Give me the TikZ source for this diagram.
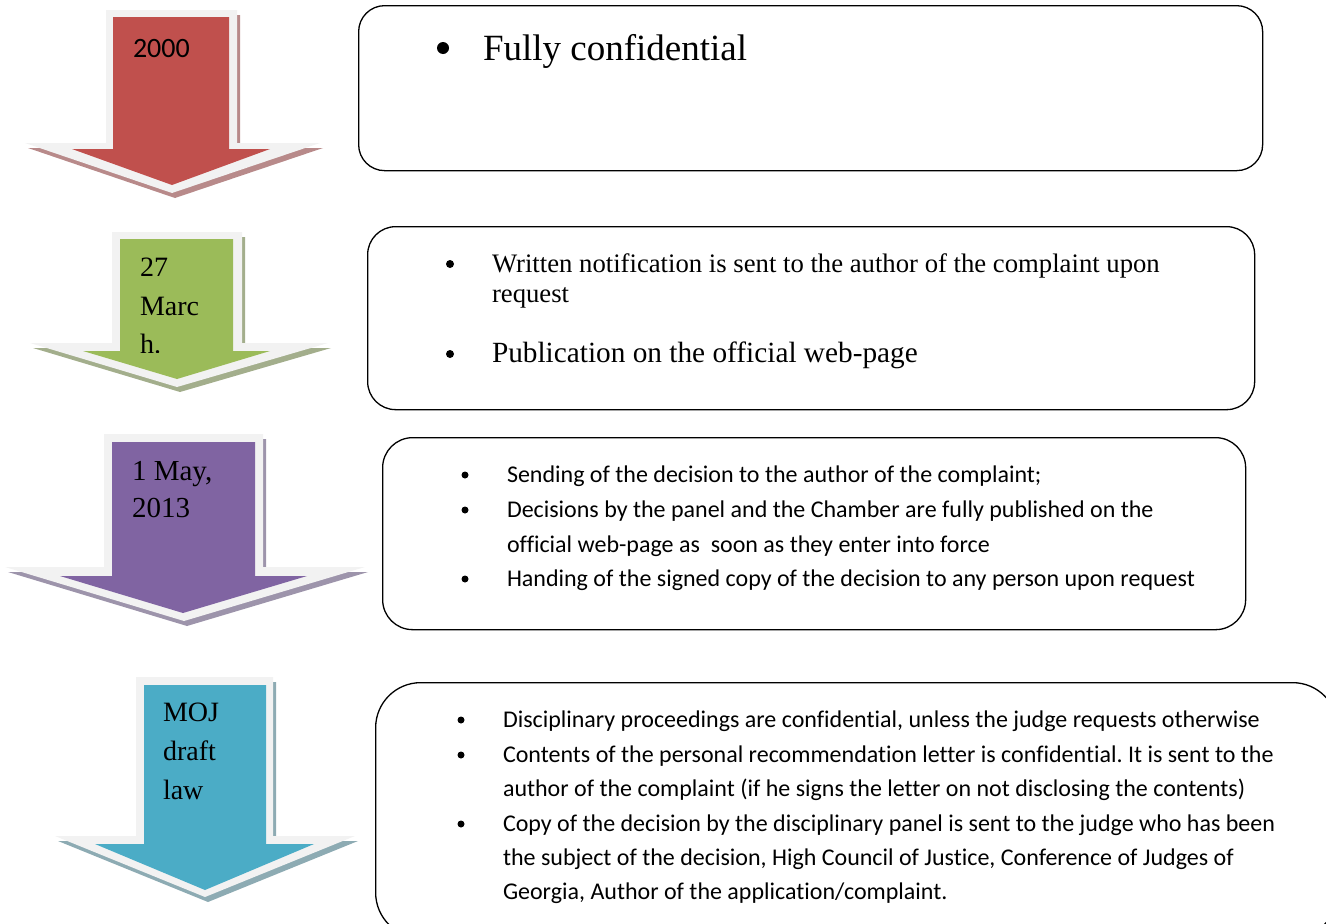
\documentclass[tikz,border=0pt]{standalone}
\usepackage{fontspec}
\setmainfont{Liberation Serif}
\newfontfamily\calibrifont[Ligatures=NoCommon]{Carlito}
\frenchspacing
\definecolor{redfill}{HTML}{C0504D}
\definecolor{redshade}{HTML}{B88A8A}
\definecolor{greenfill}{HTML}{9BBB59}
\definecolor{greenshade}{HTML}{A3AE8C}
\definecolor{purplefill}{HTML}{8064A2}
\definecolor{purpleshade}{HTML}{9D94AB}
\definecolor{tealfill}{HTML}{4BACC6}
\definecolor{tealshade}{HTML}{8DABB3}
\definecolor{rimgrey}{HTML}{F2F2F2}
\begin{document}
\begin{tikzpicture}[x=1pt,y=-1pt,
  panel/.style={draw=black,line width=1.3pt,anchor=north west,inner sep=0pt},
  txt/.style={anchor=base west,inner sep=0pt,outer sep=0pt},
  dot/.style={circle,fill=black,inner sep=0pt,minimum size=#1},
  rim/.style={fill=rimgrey},
  shade/.style={fill=#1,shift={(3,5)}},
]
\useasboundingbox (0,0) rectangle (1326,924);
\clip (0,0) rectangle (1326,924);

% ---------- arrow 1: 2000 ----------
\fill[shade=redshade] (106,10) -- (237,10) -- (237,143) -- (320,143) -- (172,193) -- (25,143) -- (106,143) -- cycle;
\fill[rim] (106,10) -- (237,10) -- (237,143) -- (320,143) -- (172,193) -- (25,143) -- (106,143) -- cycle;
\fill[redfill] (113,17) -- (229,17) -- (229,149) -- (270,149) -- (172,185) -- (72,149) -- (113,149) -- cycle;
\node[txt,font=\calibrifont\fontsize{28}{34}\selectfont] (a1) at (133,57) {2000};

% ---------- arrow 2: 27 March ----------
\fill[shade=greenshade] (112,232) -- (242,232) -- (242,343) -- (328,343) -- (177,387) -- (30,343) -- (112,343) -- cycle;
\fill[rim] (112,232) -- (242,232) -- (242,343) -- (328,343) -- (177,387) -- (30,343) -- (112,343) -- cycle;
\fill[greenfill] (120,239) -- (233,239) -- (233,351) -- (270,351) -- (177,379) -- (83,351) -- (120,351) -- cycle;
\begin{scope}[font=\fontsize{28}{39}\selectfont]
  \clip (120,239) rectangle (233,352);
  \node[txt] (a2a) at (140,276) {27};
  \node[txt] (a2b) at (140,315) {Marc};
  \node[txt] (a2c) at (140,353) {h.};
\end{scope}

% ---------- arrow 3: 1 May, 2013 ----------
\fill[shade=purpleshade] (104,434) -- (263,434) -- (263,567) -- (365,567) -- (184,621) -- (5,567) -- (104,567) -- cycle;
\fill[rim] (104,434) -- (263,434) -- (263,567) -- (365,567) -- (184,621) -- (5,567) -- (104,567) -- cycle;
\fill[purplefill] (112,442) -- (255,442) -- (255,576) -- (307,576) -- (183,613) -- (60,576) -- (112,576) -- cycle;
\begin{scope}[font=\fontsize{29}{37}\selectfont]
  \node[txt] (a3a) at (132,480) {1 May,};
  \node[txt] (a3b) at (132,517) {2013};
\end{scope}

% ---------- arrow 4: MOJ draft law ----------
\fill[shade=tealshade] (136,677) -- (273,677) -- (273,836) -- (355,836) -- (205,897) -- (55,836) -- (136,836) -- cycle;
\fill[rim] (136,677) -- (273,677) -- (273,836) -- (355,836) -- (205,897) -- (55,836) -- (136,836) -- cycle;
\fill[tealfill] (144,685) -- (266,685) -- (266,844) -- (314,844) -- (205,890) -- (95,844) -- (144,844) -- cycle;
\begin{scope}[font=\fontsize{28}{39}\selectfont]
  \node[txt] (a4a) at (163,721) {MOJ};
  \node[txt] (a4b) at (163,760) {draft};
  \node[txt] (a4c) at (163,799) {law};
\end{scope}

% ---------- panels ----------
\node[panel,rounded corners=26pt,minimum width=904pt,minimum height=165pt] (p1) at (358,5) {};
\node[panel,rounded corners=28pt,minimum width=887pt,minimum height=183pt] (p2) at (367,226) {};
\node[panel,rounded corners=30pt,minimum width=863pt,minimum height=192pt] (p3) at (382,437) {};
\node[panel,rounded corners=45pt,minimum width=962pt,minimum height=255pt] (p4) at (375,682) {};

% panel 1
\node[dot=12pt] (d11) at (443,48) {};
\node[txt,font=\fontsize{37}{44}\selectfont] (t11) at (483,60) {Fully confidential};

% panel 2
\node[dot=8pt] (d21) at (450,264) {};
\node[txt,font=\fontsize{26.7}{30}\selectfont] (t21a) at (492,272) {Written notification is sent to the author of the complaint upon};
\node[txt,font=\fontsize{26.7}{30}\selectfont] (t21b) at (492,302) {request};
\node[dot=8pt] (d22) at (450,354) {};
\node[txt,font=\fontsize{29.3}{34}\selectfont] (t22) at (492,362) {Publication on the official web-page};

% panel 3
\begin{scope}[font=\calibrifont\fontsize{24}{35}\selectfont]
\node[dot=7pt] (d31) at (465,475) {};
\node[txt] (t31) at (507,482) {Sending of the decision to the author of the complaint;};
\node[dot=7pt] (d32) at (465,510) {};
\node[txt] (t32a) at (507,517) {Decisions by the panel and the Chamber are fully published on the};
\node[txt] (t32b) at (507,552) {official web-page as\ \ soon as they enter into force};
\node[dot=7pt] (d33) at (465,579) {};
\node[txt] (t33) at (507,586) {Handing of the signed copy of the decision to any person upon request};
\end{scope}

% panel 4
\begin{scope}[font=\calibrifont\fontsize{24}{34.4}\selectfont]
\node[dot=7pt] (d41) at (461,720) {};
\node[txt] (t41) at (503,727) {Disciplinary proceedings are confidential, unless the judge requests otherwise};
\node[dot=7pt] (d42) at (461,755) {};
\node[txt] (t42a) at (503,762) {Contents of the personal recommendation letter is confidential. It is sent to the};
\node[txt] (t42b) at (503,796) {author of the complaint (if he signs the letter on not disclosing the contents)};
\node[dot=7pt] (d43) at (461,824) {};
\node[txt] (t43a) at (503,831) {Copy of the decision by the disciplinary panel is sent to the judge who has been};
\node[txt] (t43b) at (503,865) {the subject of the decision, High Council of Justice, Conference of Judges of};
\node[txt] (t43c) at (503,899) {Georgia, Author of the application/complaint.};
\end{scope}
\end{tikzpicture}
\end{document}
